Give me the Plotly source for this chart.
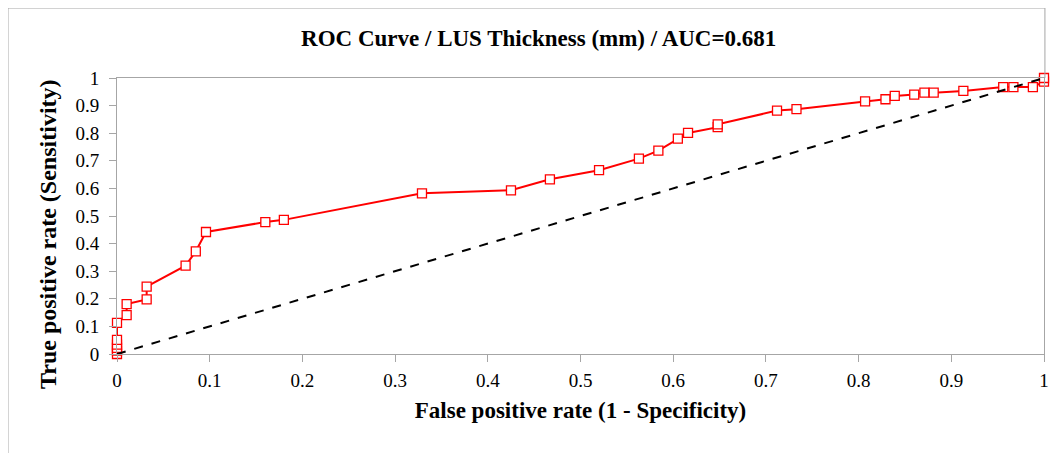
import plotly.graph_objects as go

# ROC curve points
fpr = [0, 0, 0, 0, 0, 0, 0.0104, 0.0104, 0.032, 0.032, 0.074, 0.085, 0.096,
       0.160, 0.180, 0.329, 0.425, 0.467, 0.520, 0.563, 0.584, 0.605, 0.616,
       0.648, 0.648, 0.712, 0.733, 0.807, 0.829, 0.839, 0.860, 0.871, 0.881,
       0.913, 0.956, 0.967, 0.988, 1.0, 1.0]
tpr = [0, 0.012, 0.022, 0.034, 0.051, 0.113, 0.141, 0.181, 0.198, 0.244, 0.320,
       0.372, 0.442, 0.478, 0.486, 0.582, 0.593, 0.633, 0.666, 0.708, 0.737,
       0.780, 0.801, 0.822, 0.832, 0.882, 0.887, 0.915, 0.923, 0.935, 0.940,
       0.947, 0.947, 0.953, 0.967, 0.967, 0.967, 0.987, 1.0]
diag_x = [0, 1]
diag_y = [0, 1]
tick_vals = [0, 0.1, 0.2, 0.3, 0.4, 0.5, 0.6, 0.7, 0.8, 0.9, 1]
tick_text = ["0", "0.1", "0.2", "0.3", "0.4", "0.5", "0.6", "0.7", "0.8", "0.9", "1"]

title = "ROC Curve / LUS Thickness (mm) / AUC=0.681"
x_title = "False positive rate (1 - Specificity)"
y_title = "True positive rate (Sensitivity)"

FONT = "Liberation Serif"
GREY = "#a6a6a6"

fig = go.Figure()
fig.add_trace(go.Scatter(
    x=fpr, y=tpr, mode="lines+markers",
    line=dict(color="#ff0000", width=2),
    marker=dict(symbol="square", size=9, color="white",
                line=dict(color="#ff0000", width=1.3)),
    showlegend=False, cliponaxis=False))
fig.add_trace(go.Scatter(
    x=diag_x, y=diag_y, mode="lines",
    line=dict(color="black", width=2, dash="dash"),
    showlegend=False, cliponaxis=False))

axis_common = dict(showgrid=False, zeroline=False, linecolor=GREY, linewidth=1,
                   tickcolor=GREY, ticklen=7, tickwidth=1,
                   tickvals=tick_vals, ticktext=tick_text, range=[0, 1],
                   tickfont=dict(family=FONT, size=19, color="black"))

fig.update_layout(
    width=1053, height=445,
    margin=dict(l=109, r=17, t=70, b=99),
    paper_bgcolor="white", plot_bgcolor="white",
    title=dict(text="<b>" + title + "</b>", x=0.504, xref="container", xanchor="center",
               y=0.932, yref="container", yanchor="middle",
               font=dict(family=FONT, size=23, color="black")),
    xaxis=dict(**axis_common, showline=True, mirror=True, ticks="outside",
               ticklabelstandoff=2,
               title=dict(text="<b>" + x_title + "</b>", standoff=12,
                          font=dict(family=FONT, size=23, color="black"))),
    yaxis=dict(**axis_common, showline=True, mirror=True, ticks="outside",
               ticklabelstandoff=6),
    xaxis2=dict(overlaying="x", anchor="y", side="bottom", range=[0, 1],
                tickvals=tick_vals, ticks="inside", ticklen=7, tickcolor=GREY,
                showticklabels=False, showgrid=False, zeroline=False, showline=False),
    yaxis2=dict(overlaying="y", anchor="x", side="left", range=[0, 1],
                tickvals=tick_vals, ticks="inside", ticklen=7, tickcolor=GREY,
                showticklabels=False, showgrid=False, zeroline=False, showline=False),
)

# y-axis title placed as in the reference (slightly below centre)
fig.add_annotation(text="<b>" + y_title + "</b>", textangle=-90,
                   xref="paper", yref="paper", x=-0.0744, y=0.435,
                   xanchor="center", yanchor="middle", showarrow=False,
                   font=dict(family=FONT, size=24, color="black"))

# outer chart frame (left and top edges, as in the reference)
fig.add_shape(type="path", xref="paper", yref="paper",
              path="M -0.1176 -0.36 L -0.1176 1.2536 L 1.001 1.2536 L 1.001 1.0",
              line=dict(color=GREY, width=1))

fig.write_html("out.html")
